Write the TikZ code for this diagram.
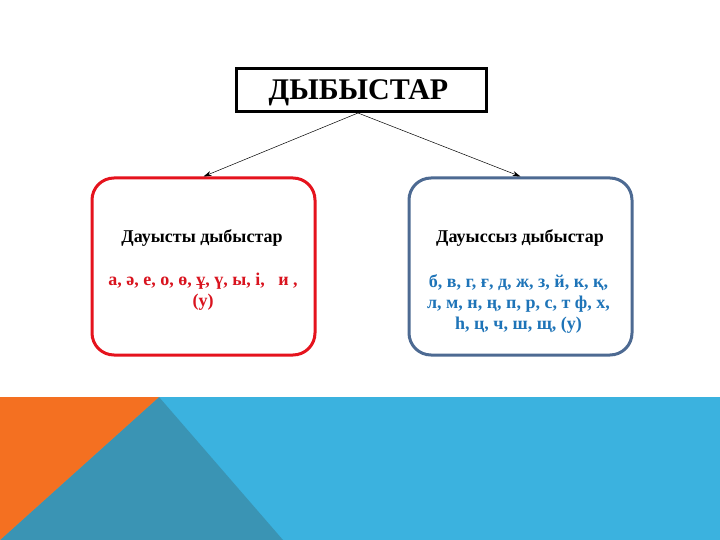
\documentclass[tikz,border=0pt]{standalone}
\usepackage{fontspec}
\setmainfont{Liberation Serif}
\usetikzlibrary{arrows.meta}
\definecolor{orng}{HTML}{F47021}
\definecolor{lblue}{HTML}{3BB2DF}
\definecolor{dteal}{HTML}{3A94B4}
\definecolor{boxred}{HTML}{E5131D}
\definecolor{boxblue}{HTML}{4D6A92}
\definecolor{txtblue}{HTML}{1E74B8}
\definecolor{txtred}{HTML}{D9141F}
\tikzset{
  roundbox/.style={draw, line width=3pt, rounded corners=22pt, minimum width=223pt, minimum height=177pt, fill=white},
  connector/.style={-{Stealth[length=8pt,width=5pt]}, line width=0.5pt, black},
  bodytxt/.style={font=\bfseries\fontsize{18}{21}\selectfont, align=center}
}
\begin{document}
\begin{tikzpicture}[x=1pt,y=-1pt]
\useasboundingbox (0,0) rectangle (720,540);
\fill[white] (0,0) rectangle (720,540);
% bottom band
\fill[lblue] (0,397) rectangle (720,540);
\fill[dteal] (159,397) -- (283,540) -- (0,540) -- cycle;
\fill[orng] (0,397) -- (159,397) -- (0,540) -- cycle;
% title
\node[draw, line width=3pt, minimum width=250pt, minimum height=43pt, inner sep=0pt] (title) at (361,90.5) {};
\node[font=\bfseries\fontsize{30}{34}\selectfont] (titletxt) at (358.5,93) {ДЫБЫСТАР};
% boxes
\node[roundbox, draw=boxred] (left) at (203.5,266.5) {};
\node[roundbox, draw=boxblue] (right) at (520.5,266.5) {};
% texts
\node[bodytxt] (lh) at (202,238) {Дауысты дыбыстар};
\node[bodytxt, text=txtred] (lt) at (203,292) {а, ә, е, о, ө, ұ, ү, ы, і, \ \ и ,\\(у)};
\node[bodytxt] (rh) at (520,238) {Дауыссыз дыбыстар};
\node[bodytxt, text=txtblue] (rt) at (518.5,303.5) {б, в, г, ғ, д, ж, з, й, к, қ,\\л, м, н, ң, п, р, с, т ф, х,\\һ, ц, ч, ш, щ, (у)};
% connectors
\coordinate (apex) at (358,113);
\draw[connector] (apex) -- (left.north);
\draw[connector] (apex) -- (right.north);
\end{tikzpicture}
\end{document}
